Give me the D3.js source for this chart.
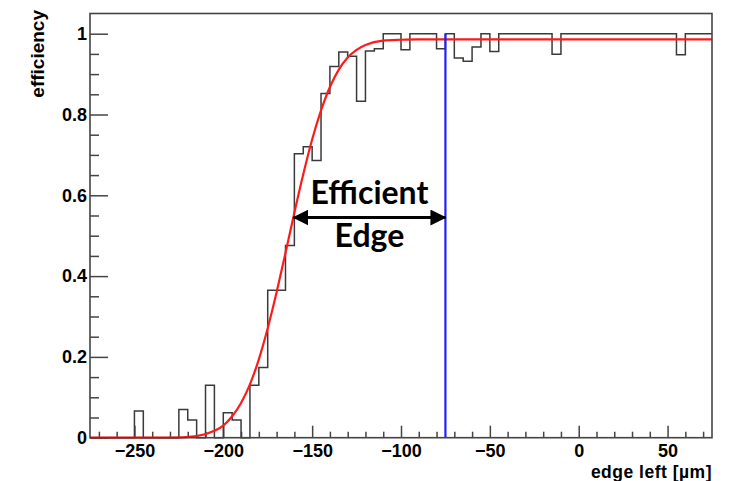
<!DOCTYPE html>
<html>
<head>
<meta charset="utf-8">
<script src="https://cdn.jsdelivr.net/npm/d3@7"></script>
<style>
  body { margin: 0; background: #fff; }
  svg { display: block; }
  .tick text { font-family: "Liberation Sans", Arial, sans-serif; font-weight: bold; font-size: 18px; fill: #000; }
</style>
</head>
<body>
<div id="chart"></div>
<script>
var svgWidth = 729;
var svgHeight = 481;

var margin = { top: 13.5, right: 17, bottom: 43.3, left: 90 };
var width = svgWidth - margin.left - margin.right;
var height = svgHeight - margin.top - margin.bottom;

// histogram bins: low edges (µm) and efficiency per bin
var binLow = [-275, -270, -265, -260, -255, -250, -245, -240, -235, -230,
              -225, -220, -215, -210, -205, -200, -195, -190, -185, -180,
              -175, -170, -165, -160, -155, -150, -145, -140, -135, -130,
              -125, -120, -115, -110, -105, -100, -95, -90, -85, -80,
              -75, -70, -65, -60, -55, -50, -45, -40, -35, -30,
              -25, -20, -15, -10, -5, 0, 5, 10, 15, 20,
              25, 30, 35, 40, 45, 50, 55, 60, 65, 70];
var binWidth = 5;
var efficiency = [0, 0, 0, 0, 0, 0.066, 0, 0, 0, 0,
                  0.070, 0.044, 0, 0.130, 0, 0.062, 0.044, 0, 0.130, 0.174,
                  0.365, 0.365, 0.476, 0.703, 0.720, 0.686, 0.852, 0.919, 0.955, 0.944,
                  0.833, 0.957, 0.963, 1, 1, 0.960, 1, 1, 1, 0.963,
                  1, 0.940, 0.932, 0.967, 1, 0.956, 1, 1, 1, 1,
                  1, 1, 0.949, 1, 1, 1, 1, 1, 1, 1,
                  1, 1, 1, 1, 1, 1, 0.948, 1, 1, 1];

// fit curve
var fitX = [-275, -230, -215, -205, -200, -195, -190, -185, -180, -175, -170, -165, -160,
            -155, -150, -145, -140, -135, -130, -125, -120, -110, -100, -90, 75];
var fitY = [0, 0.000, 0.004, 0.017, 0.030, 0.053, 0.086, 0.132, 0.194, 0.271, 0.360, 0.457, 0.557,
            0.652, 0.738, 0.810, 0.868, 0.911, 0.941, 0.960, 0.972, 0.983, 0.985, 0.986, 0.986];

// efficient edge marker
var edgeX = -75;
var edgeTop = 1.0;
var arrowFrom = -160.5;
var arrowY = 0.545;
var noteLines = ["Efficient", "Edge"];

var xMajor = [-250, -200, -150, -100, -50, 0, 50];
var xMinor = [-270, -260, -240, -230, -220, -210, -190, -180, -170, -160, -140, -130, -120, -110,
              -90, -80, -70, -60, -40, -30, -20, -10, 10, 20, 30, 40, 60, 70];
var yMajor = [0, 0.2, 0.4, 0.6, 0.8, 1];
var yMinor = [0.05, 0.1, 0.15, 0.25, 0.3, 0.35, 0.45, 0.5, 0.55, 0.65, 0.7, 0.75, 0.85, 0.9, 0.95];

var svg = d3.select("#chart")
    .append("svg")
    .attr("width", svgWidth)
    .attr("height", svgHeight);

var chartGroup = svg.append("g")
    .attr("transform", `translate(${margin.left}, ${margin.top})`);

var xScale = d3.scaleLinear().domain([-275, 75]).range([0, width]);
var yScale = d3.scaleLinear().domain([0, 1.05]).range([height, 0]);

// axes, ticks pointing into the frame (ROOT style)
chartGroup.append("g")
    .attr("transform", `translate(0, ${height})`)
    .call(d3.axisBottom(xScale).tickValues(xMinor).tickSizeInner(-6).tickSizeOuter(0).tickFormat(""));
chartGroup.append("g")
    .attr("transform", `translate(0, ${height})`)
    .call(d3.axisBottom(xScale).tickValues(xMajor).tickSizeInner(-12).tickSizeOuter(0).tickPadding(7));

chartGroup.append("g")
    .call(d3.axisLeft(yScale).tickValues(yMinor).tickSizeInner(-9).tickSizeOuter(0).tickFormat(""));
chartGroup.append("g")
    .call(d3.axisLeft(yScale).tickValues(yMajor).tickSizeInner(-18).tickSizeOuter(0).tickPadding(3)
        .tickFormat(d3.format("~g")));

chartGroup.selectAll(".domain").remove();
chartGroup.selectAll(".tick line").attr("stroke", "#444").attr("stroke-width", 1.5);

// histogram as a step line
var steps = binLow.map((b, i) => [b, efficiency[i]]);
steps.push([binLow[binLow.length - 1] + binWidth, efficiency[efficiency.length - 1]]);

chartGroup.append("path")
    .datum(steps)
    .attr("fill", "none")
    .attr("stroke", "#3a3a3a")
    .attr("stroke-width", 1.5)
    .attr("d", d3.line().x(d => xScale(d[0])).y(d => yScale(d[1])).curve(d3.curveStepAfter));

// fit
chartGroup.append("path")
    .datum(fitX.map((x, i) => [x, fitY[i]]))
    .attr("fill", "none")
    .attr("stroke", "#ff1a1a")
    .attr("stroke-width", 2.2)
    .attr("d", d3.line().x(d => xScale(d[0])).y(d => yScale(d[1])).curve(d3.curveMonotoneX));

// blue edge line
chartGroup.append("line")
    .attr("x1", xScale(edgeX)).attr("x2", xScale(edgeX))
    .attr("y1", yScale(0)).attr("y2", yScale(edgeTop))
    .attr("stroke", "#2020ff")
    .attr("stroke-width", 2.2);

// frame
chartGroup.append("rect")
    .attr("width", width)
    .attr("height", height)
    .attr("fill", "none")
    .attr("stroke", "#444")
    .attr("stroke-width", 1.6);

// double arrow + note
svg.append("defs").append("marker")
    .attr("id", "head")
    .attr("markerUnits", "userSpaceOnUse")
    .attr("viewBox", "0 0 16 16")
    .attr("refX", 15).attr("refY", 8)
    .attr("markerWidth", 16).attr("markerHeight", 16)
    .attr("orient", "auto-start-reverse")
    .append("path")
    .attr("d", "M0,0 L16,8 L0,16 Z")
    .attr("fill", "#000");

chartGroup.append("line")
    .attr("x1", xScale(arrowFrom)).attr("x2", xScale(edgeX))
    .attr("y1", yScale(arrowY)).attr("y2", yScale(arrowY))
    .attr("stroke", "#000")
    .attr("stroke-width", 3)
    .attr("marker-start", "url(#head)")
    .attr("marker-end", "url(#head)");

var noteX = (xScale(arrowFrom) + xScale(edgeX)) / 2;
chartGroup.selectAll(".note")
    .data(noteLines)
    .enter()
    .append("text")
    .attr("class", "note")
    .attr("x", noteX)
    .attr("y", (d, i) => yScale(arrowY) + (i === 0 ? -14 : 29))
    .attr("text-anchor", "middle")
    .style("font-family", "Lato, 'Open Sans', sans-serif")
    .style("font-weight", "bold")
    .style("font-size", "32px")
    .text(d => d);

// axis titles
svg.append("text")
    .attr("transform", `translate(44, 10) rotate(-90)`)
    .attr("text-anchor", "end")
    .style("font-family", "'Liberation Sans', Arial, sans-serif")
    .style("font-weight", "bold")
    .style("font-size", "19px")
    .text("efficiency");

svg.append("text")
    .attr("x", margin.left + width)
    .attr("y", 478)
    .attr("text-anchor", "end")
    .style("font-family", "'Liberation Sans', Arial, sans-serif")
    .style("font-weight", "bold")
    .style("font-size", "17.5px")
    .style("letter-spacing", "0.5px")
    .text("edge left [µm]");
</script>
</body>
</html>
